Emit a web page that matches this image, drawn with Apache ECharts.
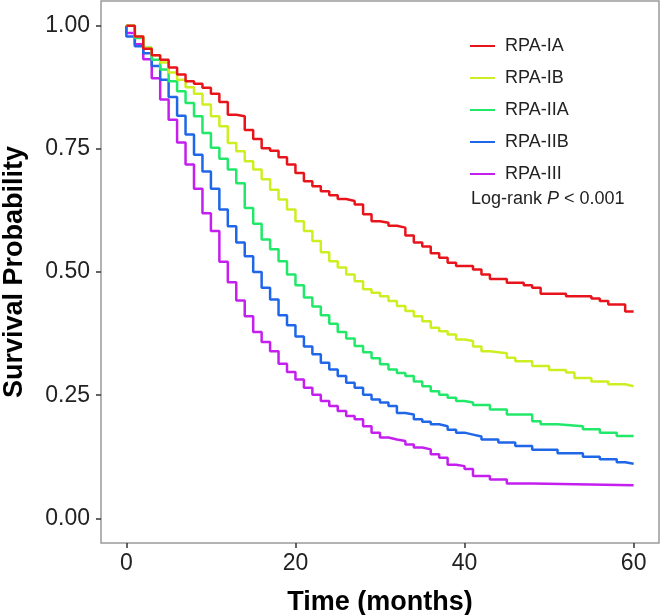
<!DOCTYPE html>
<html><head><meta charset="utf-8">
<script src="https://cdn.jsdelivr.net/npm/echarts@6/dist/echarts.min.js"></script>
<style>html,body{margin:0;padding:0;background:#fff}#c{width:661px;height:615px}</style>
</head><body><div id="c"></div>
<script>
const seriesNames = ['RPA-IA', 'RPA-IB', 'RPA-IIA', 'RPA-IIB', 'RPA-III'];
const xTicks = [0, 20, 40, 60];
const yTicks = [0, 0.25, 0.5, 0.75, 1];

const timeIA = [0,1,2,3,4,5,6,7,8,9,10,11,12,13,14,15,16,17,18,19,20,21,22,23,24,25,26,27,28,29,30,31,32,33,34,35,36,37,38,39,41,42,43,45,47,48,49,52,55,56,57,59,60];
const survIA = [1,0.978,0.953,0.940,0.931,0.915,0.901,0.887,0.882,0.874,0.862,0.845,0.819,0.816,0.788,0.770,0.751,0.746,0.733,0.718,0.701,0.684,0.674,0.664,0.656,0.648,0.644,0.637,0.617,0.603,0.600,0.594,0.590,0.574,0.560,0.552,0.538,0.529,0.519,0.512,0.505,0.495,0.486,0.478,0.473,0.468,0.456,0.451,0.446,0.441,0.434,0.420,0.420];

const timeIB = [0,1,2,3,4,5,6,7,8,9,10,11,12,13,14,15,16,17,18,19,20,21,22,23,24,25,26,27,28,29,30,31,32,33,34,35,36,37,38,39,40,41,42,43,45,46,48,50,52,53,55,57,59,60];
const survIB = [1,0.978,0.955,0.940,0.925,0.905,0.890,0.875,0.862,0.840,0.816,0.796,0.762,0.745,0.725,0.708,0.688,0.667,0.647,0.627,0.603,0.583,0.563,0.540,0.522,0.509,0.495,0.481,0.465,0.458,0.451,0.441,0.431,0.421,0.410,0.400,0.387,0.380,0.373,0.363,0.360,0.349,0.339,0.335,0.326,0.319,0.309,0.301,0.296,0.285,0.278,0.272,0.268,0.268];

const timeIIA = [0,1,2,3,4,5,6,7,8,9,10,11,12,13,14,15,16,17,18,19,20,21,22,23,24,25,26,27,28,29,30,31,32,33,34,35,36,37,38,39,40,41,43,45,48,49,51,54,56,58,60];
const survIIA = [1,0.975,0.955,0.931,0.911,0.887,0.867,0.843,0.816,0.782,0.752,0.730,0.708,0.680,0.630,0.598,0.566,0.546,0.522,0.495,0.473,0.448,0.430,0.412,0.395,0.378,0.365,0.350,0.337,0.325,0.313,0.302,0.295,0.289,0.278,0.268,0.258,0.251,0.245,0.238,0.235,0.230,0.221,0.211,0.197,0.191,0.187,0.181,0.174,0.167,0.166];

const timeIIB = [0,0,1,2,3,4,5,6,7,8,9,10,11,12,13,14,15,16,17,18,19,20,21,22,23,24,25,26,27,28,29,30,31,32,33,34,35,36,37,38,39,40,41,42,44,46,48,51,54,56,58,59,60];
const survIIB = [1,0.978,0.958,0.944,0.918,0.890,0.855,0.817,0.779,0.738,0.704,0.669,0.627,0.593,0.560,0.532,0.500,0.468,0.444,0.412,0.392,0.369,0.349,0.333,0.316,0.302,0.289,0.275,0.265,0.251,0.241,0.235,0.228,0.214,0.211,0.201,0.196,0.191,0.187,0.180,0.174,0.170,0.166,0.160,0.154,0.147,0.139,0.132,0.125,0.120,0.114,0.111,0.111];

const timeIII = [0,0,1,2,3,4,5,6,7,8,9,10,11,12,13,14,15,16,17,18,19,20,21,22,23,24,25,26,27,28,29,30,31,32,33,34,35,36,37,38,39,40,41,43,45,48,60];
const survIII = [1,0.985,0.962,0.932,0.893,0.850,0.809,0.763,0.718,0.669,0.619,0.583,0.521,0.479,0.442,0.410,0.378,0.358,0.339,0.314,0.297,0.282,0.265,0.251,0.238,0.228,0.218,0.208,0.201,0.187,0.174,0.164,0.160,0.157,0.150,0.144,0.140,0.130,0.123,0.109,0.106,0.100,0.086,0.079,0.071,0.067,0.067];

const colors = ['#E8141B', '#CFEE22', '#22E86A', '#1F66E8', '#C41FEE'];
const times = [timeIA, timeIB, timeIIA, timeIIB, timeIII];
const survs = [survIA, survIB, survIIA, survIIB, survIII];

const chart = echarts.init(document.getElementById('c'), null, {renderer: 'canvas'});
const font = 'Liberation Sans, Arial, Helvetica, sans-serif';

const series = seriesNames.map((name, k) => ({
  name: name,
  type: 'line',
  step: 'end',
  showSymbol: false,
  symbol: 'none',
  animation: false,
  lineStyle: {color: colors[k], width: 2.5},
  itemStyle: {color: colors[k]},
  data: times[k].map((t, i) => [t, survs[k][i]]),
  z: 10 - k
}));

chart.setOption({
  animation: false,
  backgroundColor: '#fff',
  grid: {left: 101, right: 2, top: 1, bottom: 72, show: true, borderColor: '#9a9a9a', borderWidth: 1.5,
    backgroundColor: 'transparent', containLabel: false, outerBoundsMode: 'none'},
  xAxis: {
    type: 'value', min: -3, max: 63,
    name: 'Time (months)', nameLocation: 'middle', nameGap: 46,
    nameTextStyle: {fontFamily: font, fontSize: 27, fontWeight: 'bold', color: '#000'},
    axisLine: {show: false, onZero: false},
    splitLine: {show: false},
    axisTick: {show: true, customValues: xTicks, length: 5, lineStyle: {color: '#333', width: 1.5}},
    axisLabel: {customValues: xTicks, fontFamily: font, fontSize: 23, color: '#222', margin: 9}
  },
  yAxis: {
    type: 'value', min: -0.05, max: 1.05,
    name: 'Survival Probability', nameLocation: 'middle', nameGap: 73, nameRotate: 90,
    nameTextStyle: {fontFamily: font, fontSize: 27, fontWeight: 'bold', color: '#000'},
    axisLine: {show: false, onZero: false},
    splitLine: {show: false},
    axisTick: {show: true, customValues: yTicks, length: 5, lineStyle: {color: '#333', width: 1.5}},
    axisLabel: {customValues: yTicks, fontFamily: font, fontSize: 23, color: '#222', margin: 11,
      formatter: v => v.toFixed(2)}
  },
  legend: {
    orient: 'vertical', left: 470, top: 37, padding: 0,
    itemWidth: 25, itemHeight: 2, itemGap: 14,
    icon: 'rect',
    data: seriesNames,
    textStyle: {fontFamily: font, fontSize: 18, color: '#222', padding: [0, 0, 0, 5]}
  },
  graphic: [{
    type: 'text', left: 471, top: 190,
    style: {
      text: '{a|Log-rank }{b|P}{a| < 0.001}',
      rich: {
        a: {fontFamily: font, fontSize: 18, fill: '#222'},
        b: {fontFamily: font, fontSize: 18, fontStyle: 'italic', fill: '#222'}
      }
    }
  }],
  series: series
});
</script>
</body></html>
